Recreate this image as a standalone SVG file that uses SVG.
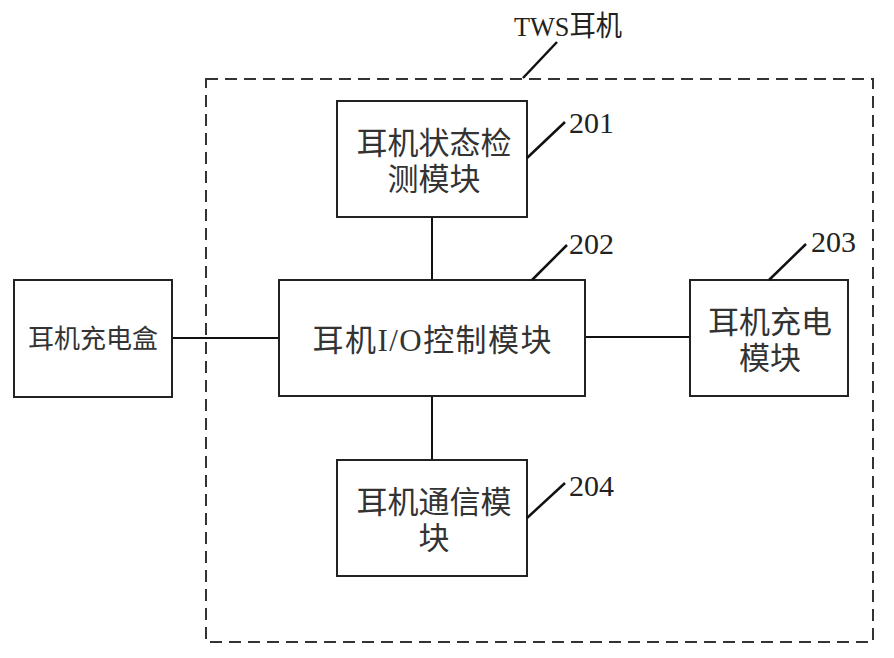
<svg xmlns="http://www.w3.org/2000/svg" width="894" height="658" viewBox="0 0 894 658">
<style>
.box{fill:#fff;stroke:#222;stroke-width:2}
.ln{stroke:#111;stroke-width:2;fill:none}
.lead{stroke:#111;stroke-width:2.5;fill:none}
.t{font-family:"Liberation Serif","Noto Sans CJK SC",serif;fill:#333;font-size:31px;text-anchor:middle}
.n{font-family:"Liberation Serif",serif;fill:#222;font-size:30px}
.dash{fill:none;stroke:#333;stroke-width:2;stroke-dasharray:12 7}
</style>
<rect width="894" height="658" fill="#fff"/>
<g id="tws">
<rect class="dash" x="206" y="79" width="667" height="563"/>
<text class="n" x="514" y="36" style="font-family:'Liberation Serif','Noto Sans CJK SC',serif;font-size:28px" textLength="108" lengthAdjust="spacingAndGlyphs">TWS耳机</text>
<line class="lead" x1="523" y1="78" x2="557" y2="42"/>
</g>
<g id="connectors">
<line class="ln" x1="172" y1="338" x2="280" y2="338"/>
<line class="ln" x1="585" y1="337" x2="690" y2="337"/>
<line class="ln" x1="432" y1="217" x2="432" y2="280"/>
<line class="ln" x1="432" y1="396" x2="432" y2="460"/>
</g>
<g id="box">
<rect class="box" x="14" y="280" width="158" height="117"/>
<text class="t" x="93" y="348" style="font-size:26px">耳机充电盒</text>
</g>
<g id="n201">
<rect class="box" x="337" y="101" width="190" height="116"/>
<text class="t" x="434" y="154">耳机状态检</text>
<text class="t" x="434" y="190">测模块</text>
<line class="lead" x1="527" y1="158" x2="565" y2="122"/>
<text class="n" x="569" y="133">201</text>
</g>
<g id="n202">
<rect class="box" x="279" y="280" width="306" height="116"/>
<text class="t" x="432" y="351" textLength="239" lengthAdjust="spacing">耳机I/O控制模块</text>
<line class="lead" x1="532" y1="280" x2="567" y2="245"/>
<text class="n" x="569" y="254">202</text>
</g>
<g id="n203">
<rect class="box" x="690" y="280" width="158" height="116"/>
<text class="t" x="770" y="333">耳机充电</text>
<text class="t" x="770" y="369">模块</text>
<line class="lead" x1="769" y1="280" x2="806" y2="244"/>
<text class="n" x="811" y="252">203</text>
</g>
<g id="n204">
<rect class="box" x="337" y="460" width="190" height="116"/>
<text class="t" x="434" y="513">耳机通信模</text>
<text class="t" x="434" y="549">块</text>
<line class="lead" x1="527" y1="518" x2="565" y2="483"/>
<text class="n" x="569" y="496">204</text>
</g>
</svg>
